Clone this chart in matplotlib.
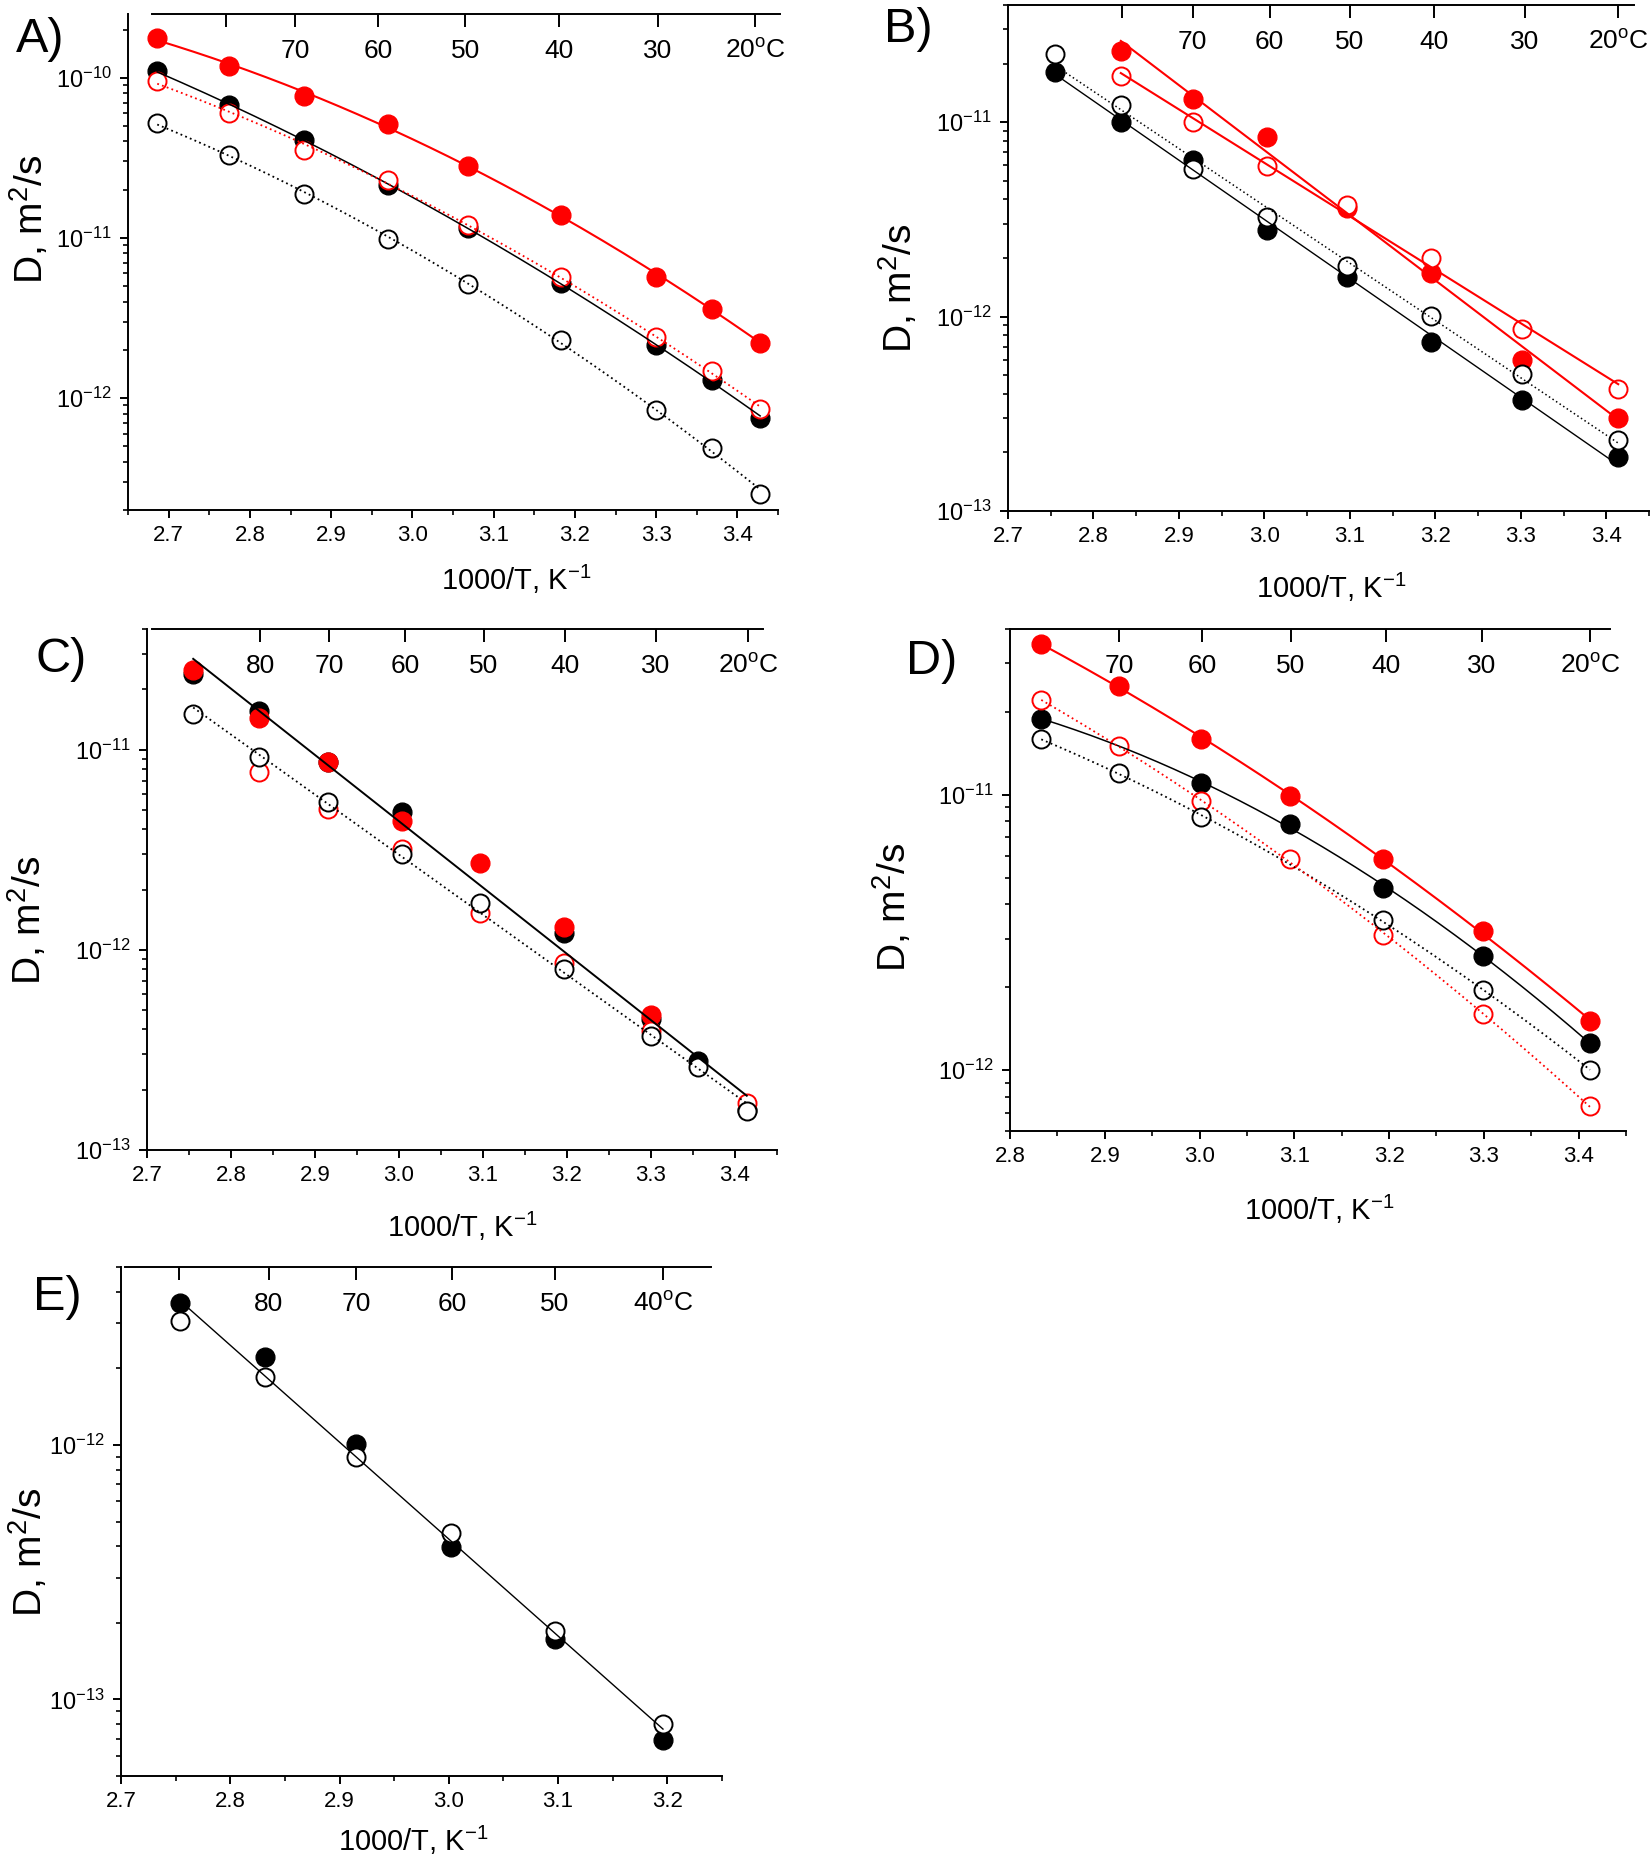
import numpy as np
import matplotlib
matplotlib.use("Agg")
import matplotlib.pyplot as plt
from matplotlib.ticker import LogLocator, NullFormatter, MultipleLocator, FormatStrFormatter, NullLocator

plt.rcParams['font.family'] = ['Liberation Sans', 'DejaVu Sans']
plt.rcParams['mathtext.fontset'] = 'custom'
plt.rcParams['mathtext.rm'] = 'Liberation Sans'
plt.rcParams['mathtext.it'] = 'Liberation Sans:italic'
plt.rcParams['mathtext.bf'] = 'Liberation Sans:bold'

# ---- panel A ----
a_x = [2.686, 2.774, 2.866, 2.970, 3.068, 3.183, 3.300, 3.369, 3.428]
a_red_fill = [1.77e-10, 1.19e-10, 7.7e-11, 5.15e-11, 2.82e-11, 1.39e-11, 5.72e-12, 3.62e-12, 2.22e-12]
a_black_fill = [1.10e-10, 6.79e-11, 4.06e-11, 2.15e-11, 1.15e-11, 5.22e-12, 2.13e-12, 1.30e-12, 7.52e-13]
a_red_open = [9.6e-11, 5.99e-11, 3.55e-11, 2.31e-11, 1.21e-11, 5.69e-12, 2.39e-12, 1.47e-12, 8.57e-13]
a_black_open = [5.2e-11, 3.29e-11, 1.89e-11, 9.84e-12, 5.16e-12, 2.29e-12, 8.47e-13, 4.91e-13, 2.52e-13]
a_top_pos = [2.770, 2.856, 2.958, 3.065, 3.180, 3.302, 3.422]
a_top_lab = ['', '70', '60', '50', '40', '30', '20$^{\\mathrm{o}}$C']

# ---- panel B ----
b_x = [2.755, 2.832, 2.916, 3.003, 3.097, 3.195, 3.301, 3.414]
b_black_fill = [1.82e-11, 1.0e-11, 6.38e-12, 2.79e-12, 1.60e-12, 7.36e-13, 3.71e-13, 1.89e-13]
b_black_open = [2.24e-11, 1.22e-11, 5.73e-12, 3.25e-12, 1.81e-12, 1.01e-12, 5.06e-13, 2.33e-13]
b_x_red = [2.832, 2.916, 3.003, 3.097, 3.195, 3.301, 3.414]
b_red_fill = [2.33e-11, 1.31e-11, 8.4e-12, 3.62e-12, 1.68e-12, 6.01e-13, 3.01e-13]
b_red_open = [1.72e-11, 1.0e-11, 5.94e-12, 3.74e-12, 2.01e-12, 8.65e-13, 4.22e-13]
b_top_pos = [2.833, 2.916, 3.006, 3.100, 3.198, 3.305, 3.414]
b_top_lab = ['', '70', '60', '50', '40', '30', '20$^{\\mathrm{o}}$C']

# ---- panel C ----
c_x = [2.755, 2.833, 2.915, 3.003, 3.096, 3.196, 3.300, 3.356, 3.414]
c_x_black_fill = [2.755, 2.833, 2.915, 3.003, 3.196, 3.300, 3.356, 3.414]
c_black_fill = [2.39e-11, 1.56e-11, 8.71e-12, 4.86e-12, 1.21e-12, 4.51e-13, 2.78e-13, 1.58e-13]
c_x_red_fill = [2.755, 2.833, 2.915, 3.003, 3.096, 3.196, 3.300]
c_red_fill = [2.50e-11, 1.43e-11, 8.71e-12, 4.42e-12, 2.70e-12, 1.30e-12, 4.73e-13]
c_black_open = [1.51e-11, 9.2e-12, 5.47e-12, 3.02e-12, 1.71e-12, 7.98e-13, 3.70e-13, 2.59e-13, 1.56e-13]
c_x_red_open = [2.833, 2.915, 3.003, 3.096, 3.196, 3.300, 3.414]
c_red_open = [7.7e-12, 5.02e-12, 3.17e-12, 1.52e-12, 8.57e-13, 3.94e-13, 1.72e-13]
c_top_pos = [2.835, 2.917, 3.007, 3.101, 3.198, 3.306, 3.416]
c_top_lab = ['80', '70', '60', '50', '40', '30', '20$^{\\mathrm{o}}$C']

# ---- panel D ----
d_x = [2.833, 2.915, 3.002, 3.095, 3.194, 3.299, 3.412]
d_red_fill = [3.52e-11, 2.49e-11, 1.59e-11, 9.93e-12, 5.82e-12, 3.20e-12, 1.50e-12]
d_x_black_fill = [2.833, 3.002, 3.095, 3.194, 3.299, 3.412]
d_black_fill = [1.89e-11, 1.10e-11, 7.80e-12, 4.60e-12, 2.60e-12, 1.25e-12]
d_x_black_open = [2.833, 2.915, 3.002, 3.194, 3.299, 3.412]
d_black_open = [1.59e-11, 1.20e-11, 8.27e-12, 3.50e-12, 1.95e-12, 1.0e-12]
d_red_open = [2.20e-11, 1.50e-11, 9.50e-12, 5.82e-12, 3.09e-12, 1.60e-12, 7.38e-13]
d_top_pos = [2.915, 3.003, 3.096, 3.197, 3.298, 3.412]
d_top_lab = ['70', '60', '50', '40', '30', '20$^{\\mathrm{o}}$C']

# ---- panel E ----
e_x = [2.754, 2.832, 2.915, 3.002, 3.097, 3.196]
e_black_fill = [3.60e-12, 2.21e-12, 1.01e-12, 3.96e-13, 1.73e-13, 6.92e-14]
e_black_open = [3.06e-12, 1.85e-12, 8.97e-13, 4.52e-13, 1.85e-13, 8.0e-14]
e_top_pos = [2.753, 2.835, 2.915, 3.003, 3.097, 3.196]
e_top_lab = ['', '80', '70', '60', '50', '40$^{\\mathrm{o}}$C']

W, H = 1650, 1857


def make_axes(fig, l, t, r, b):
    return fig.add_axes([l / W, 1 - b / H, (r - l) / W, (b - t) / H])


def dots(ax, x, y, color, filled, z):
    if filled:
        ax.plot(x, y, 'o', ms=13.5, mfc=color, mec=color, mew=1, ls='none', zorder=z)
    else:
        ax.plot(x, y, 'o', ms=13, mfc='white', mec=color, mew=1.4, ls='none', zorder=z)


def fit_line(ax, x, y, deg, color, dotted, lw, xr=None):
    x = np.asarray(x)
    coef = np.polyfit(x, np.log10(y), deg)
    lo, hi = (x.min(), x.max()) if xr is None else (min(xr), max(xr))
    xs = np.linspace(lo, hi, 200)
    if dotted:
        ax.plot(xs, 10 ** np.polyval(coef, xs), color=color, lw=lw, ls=(0, (1, 1.8)), zorder=10)
    else:
        ax.plot(xs, 10 ** np.polyval(coef, xs), color=color, lw=lw, zorder=10)


def setup(fig, ax, xlim, ylim, top_pos, top_lab, top_span, letter, letter_xy, ylab_xy, xlab_xy):
    ax.set_yscale('log')
    ax.set_xlim(*xlim)
    ax.set_ylim(*ylim)
    for s in ['top', 'right']:
        ax.spines[s].set_visible(False)
    for s in ['left', 'bottom']:
        ax.spines[s].set_linewidth(1.4)
    ax.xaxis.set_major_locator(MultipleLocator(0.1))
    ax.xaxis.set_minor_locator(MultipleLocator(0.05))
    ax.xaxis.set_major_formatter(FormatStrFormatter('%.1f'))
    ax.yaxis.set_major_locator(LogLocator(base=10))
    ax.yaxis.set_minor_locator(LogLocator(base=10, subs=np.arange(2, 10)))
    ax.yaxis.set_minor_formatter(NullFormatter())
    ax.tick_params(which='major', direction='out', length=5.8, width=1.4)
    ax.tick_params(which='minor', direction='out', length=3.5, width=1.2)
    ax.tick_params(axis='x', which='major', labelsize=16, pad=5)
    ax.tick_params(axis='y', which='major', labelsize=17, pad=6)
    ax.tick_params(top=False, right=False, which='both')

    ax2 = ax.twiny()
    ax2.set_xlim(*xlim)
    ax2.xaxis.set_minor_locator(NullLocator())
    ax2.set_xticks(top_pos)
    ax2.tick_params(axis='x', direction='in', length=9.4, width=1.4, pad=-31.5, labelsize=19)
    ax2.set_xticklabels(top_lab, va='baseline')
    for s in ['left', 'right', 'bottom']:
        ax2.spines[s].set_visible(False)
    ax2.spines['top'].set_linewidth(1.4)
    ax2.spines['top'].set_bounds(*top_span)

    ax.set_ylabel('D, m$^2$/s', fontsize=28, va='center', ha='center')
    ax.yaxis.set_label_coords(*ylab_xy)
    ax.set_xlabel('1000/T, K$^{-1}$', fontsize=21, va='center', ha='center')
    ax.xaxis.set_label_coords(*xlab_xy)
    fig.text(letter_xy[0] / W, 1 - letter_xy[1] / H, letter, fontsize=35,
             ha='center', va='center')


def main():
    fig = plt.figure(figsize=(16.5, 18.57), dpi=100)

    # A
    ax = make_axes(fig, 128, 14, 778, 510)
    dots(ax, a_x, a_black_fill, 'black', True, 3)
    dots(ax, a_x, a_red_fill, 'red', True, 4)
    dots(ax, a_x, a_red_open, 'red', False, 5)
    dots(ax, a_x, a_black_open, 'black', False, 6)
    fit_line(ax, a_x, a_red_fill, 2, 'red', False, 1.5)
    fit_line(ax, a_x, a_black_fill, 2, 'black', False, 1.1)
    fit_line(ax, a_x, a_red_open, 2, 'red', True, 1.3)
    fit_line(ax, a_x, a_black_open, 2, 'black', True, 1.3)
    setup(fig, ax, (2.65, 3.45), (2e-13, 2.5e-10), a_top_pos, a_top_lab, (2.68, 3.453),
          'A)', (40, 40), (-0.151, 0.587), (0.597, -0.14))

    # B
    ax = make_axes(fig, 1008, 5, 1649, 511)
    dots(ax, b_x, b_black_fill, 'black', True, 3)
    dots(ax, b_x_red, b_red_fill, 'red', True, 4)
    dots(ax, b_x_red, b_red_open, 'red', False, 5)
    dots(ax, b_x, b_black_open, 'black', False, 6)
    fit_line(ax, b_x, b_black_fill, 1, 'black', False, 1.0)
    fit_line(ax, b_x, b_black_open, 1, 'black', True, 1.1)
    fit_line(ax, b_x_red, b_red_fill, 1, 'red', False, 1.5)
    fit_line(ax, b_x_red, b_red_open, 1, 'red', False, 1.5)
    setup(fig, ax, (2.7, 3.45), (1e-13, 4e-11), b_top_pos, b_top_lab, (2.70, 3.433),
          'B)', (908, 29), (-0.171, 0.44), (0.505, -0.15))

    # C
    ax = make_axes(fig, 147, 629, 777, 1150)
    dots(ax, c_x_black_fill, c_black_fill, 'black', True, 3)
    dots(ax, c_x_red_fill, c_red_fill, 'red', True, 4)
    dots(ax, c_x_red_open, c_red_open, 'red', False, 5)
    dots(ax, c_x, c_black_open, 'black', False, 6)
    fit_line(ax, c_x_black_fill, c_black_fill, 1, 'black', False, 1.4)
    fit_line(ax, c_x, c_black_open, 1, 'black', True, 1.3)
    setup(fig, ax, (2.7, 3.45), (1e-13, 4e-11), c_top_pos, c_top_lab, (2.706, 3.433),
          'C)', (61, 659), (-0.189, 0.44), (0.50, -0.146))

    # D
    ax = make_axes(fig, 1010, 629, 1626, 1131)
    dots(ax, d_x_black_fill, d_black_fill, 'black', True, 3)
    dots(ax, d_x, d_red_fill, 'red', True, 4)
    dots(ax, d_x, d_red_open, 'red', False, 5)
    dots(ax, d_x_black_open, d_black_open, 'black', False, 6)
    fit_line(ax, d_x, d_red_fill, 2, 'red', False, 1.5)
    fit_line(ax, d_x_black_fill, d_black_fill, 2, 'black', False, 1.1)
    fit_line(ax, d_x_black_open, d_black_open, 2, 'black', True, 1.3)
    fit_line(ax, d_x, d_red_open, 2, 'red', True, 1.3)
    setup(fig, ax, (2.8, 3.45), (6e-13, 4e-11), d_top_pos, d_top_lab, (2.80, 3.433),
          'D)', (932, 662), (-0.19, 0.445), (0.502, -0.157))

    # E
    ax = make_axes(fig, 121, 1267, 722, 1776)
    dots(ax, e_x, e_black_fill, 'black', True, 3)
    dots(ax, e_x, e_black_open, 'black', False, 6)
    fit_line(ax, e_x + e_x, e_black_fill + e_black_open, 1, 'black', False, 1.0)
    setup(fig, ax, (2.7, 3.25), (5e-14, 5e-12), e_top_pos, e_top_lab, (2.704, 3.240),
          'E)', (57, 1297), (-0.154, 0.44), (0.487, -0.126))

    fig.savefig("out.png", dpi=100)
    plt.close(fig)


if __name__ == "__main__":
    main()
